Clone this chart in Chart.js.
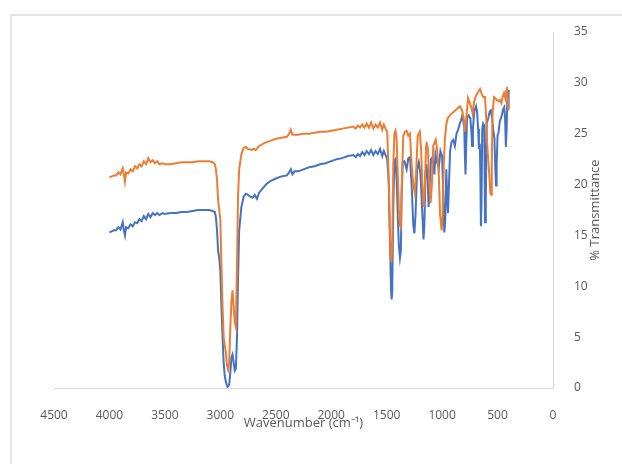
<!DOCTYPE html>
<html>
<head>
<meta charset="utf-8">
<script src="https://cdn.jsdelivr.net/npm/chart.js@4.4.1/dist/chart.umd.min.js"></script>
<style>
  body { margin: 0; background: #fff; overflow: hidden; }
  #frame {
    position: absolute; left: 10px; top: 14px; width: 700px; height: 520px;
    border: 2px solid #e4e4e4;
  }
  #wrap { position: absolute; left: 0; top: 0; width: 622px; height: 464px; }
</style>
</head>
<body>
<div id="frame"></div>
<div id="wrap"><canvas id="irChart" width="622" height="464"></canvas></div>
<script>
// Spectrum 1 (blue): wavenumber (cm-1) and % transmittance
const blueWn = [4000, 3980, 3960, 3940, 3920, 3900, 3880, 3870, 3860, 3850, 3830, 3810, 3790, 3770, 3750, 3730, 3710, 3690, 3670, 3650, 3630, 3610, 3590, 3570, 3550, 3520, 3500, 3450, 3400, 3350, 3300, 3250, 3200, 3150, 3100, 3070, 3050, 3040, 3030, 3020, 3010, 3000, 2990, 2980, 2970, 2960, 2950, 2935, 2920, 2910, 2900, 2890, 2880, 2870, 2860, 2850, 2840, 2830, 2810, 2790, 2770, 2750, 2730, 2710, 2690, 2670, 2650, 2620, 2580, 2540, 2500, 2450, 2400, 2380, 2365, 2350, 2330, 2300, 2250, 2200, 2150, 2100, 2050, 2000, 1950, 1900, 1850, 1800, 1780, 1760, 1740, 1720, 1700, 1680, 1660, 1640, 1620, 1600, 1580, 1560, 1540, 1525, 1510, 1495, 1480, 1470, 1460, 1455, 1450, 1440, 1430, 1420, 1410, 1400, 1390, 1380, 1372, 1365, 1355, 1340, 1320, 1305, 1290, 1275, 1260, 1250, 1240, 1225, 1210, 1195, 1180, 1168, 1160, 1150, 1140, 1130, 1122, 1112, 1100, 1085, 1070, 1060, 1045, 1030, 1015, 1000, 990, 980, 972, 962, 955, 947, 938, 928, 915, 900, 885, 870, 856, 840, 830, 820, 810, 800, 795, 789, 782, 775, 760, 745, 735, 730, 722, 710, 694, 685, 675, 668, 660, 655, 650, 645, 638, 630, 620, 613, 606, 598, 585, 570, 560, 550, 540, 528, 520, 514, 508, 500, 490, 480, 470, 460, 450, 440, 432, 425, 418, 412, 405, 400];
const blueT = [15.3, 15.4, 15.5, 15.5, 15.8, 15.6, 16.3, 15.5, 15.0, 15.8, 15.7, 16.1, 15.9, 16.3, 16.2, 16.6, 16.4, 16.9, 16.6, 17.1, 16.8, 17.2, 17.0, 17.2, 17.0, 17.2, 17.1, 17.2, 17.2, 17.3, 17.3, 17.4, 17.5, 17.5, 17.5, 17.4, 17.3, 16.8, 15.5, 13.5, 12.8, 11.5, 8.0, 5.0, 2.5, 1.2, 0.6, 0.1, 0.3, 1.5, 3.0, 3.3, 2.5, 1.7, 1.9, 5.0, 11.0, 15.5, 17.8, 18.8, 19.1, 19.0, 18.8, 18.7, 19.0, 18.6, 19.2, 19.6, 20.1, 20.4, 20.6, 20.8, 20.9, 21.2, 21.5, 21.0, 21.3, 21.3, 21.5, 21.7, 21.8, 22.0, 22.1, 22.3, 22.5, 22.6, 22.8, 22.9, 22.7, 23.0, 22.8, 23.2, 22.9, 23.3, 23.0, 23.4, 22.9, 23.3, 23.0, 23.5, 22.8, 23.3, 22.9, 22.5, 20.0, 14.0, 9.5, 8.7, 9.5, 18.0, 22.3, 22.5, 20.5, 17.0, 14.0, 12.8, 13.5, 19.0, 22.2, 22.3, 21.5, 22.6, 22.7, 20.0, 16.0, 15.2, 17.0, 21.5, 22.2, 21.0, 17.5, 14.6, 16.0, 21.0, 22.0, 20.5, 17.8, 20.0, 22.5, 22.7, 21.0, 23.0, 22.2, 21.6, 23.3, 22.8, 19.0, 15.3, 16.5, 21.5, 19.0, 17.2, 20.0, 23.3, 24.2, 24.4, 23.8, 25.0, 25.4, 26.0, 26.3, 26.7, 26.3, 25.6, 23.0, 21.0, 24.0, 26.6, 26.8, 26.5, 25.0, 23.8, 25.5, 27.2, 27.7, 27.2, 25.5, 23.5, 24.0, 21.0, 15.9, 18.0, 25.5, 26.0, 25.8, 16.3, 18.5, 26.0, 26.5, 27.2, 27.3, 26.5, 25.5, 24.5, 21.5, 19.9, 22.0, 24.8, 25.2, 26.2, 26.5, 26.9, 27.4, 27.6, 26.5, 23.7, 25.5, 28.5, 29.3, 27.5];

// Spectrum 2 (orange)
const orangeWn = [4000, 3980, 3960, 3940, 3920, 3900, 3880, 3870, 3860, 3850, 3830, 3810, 3790, 3770, 3750, 3730, 3710, 3690, 3670, 3650, 3630, 3610, 3590, 3570, 3550, 3520, 3500, 3450, 3400, 3350, 3300, 3250, 3200, 3150, 3100, 3070, 3050, 3040, 3030, 3020, 3010, 3000, 2990, 2980, 2970, 2960, 2950, 2940, 2930, 2920, 2910, 2900, 2890, 2880, 2870, 2860, 2850, 2840, 2830, 2810, 2790, 2770, 2750, 2720, 2700, 2680, 2650, 2600, 2550, 2500, 2450, 2400, 2380, 2365, 2350, 2330, 2300, 2250, 2200, 2150, 2100, 2050, 2000, 1950, 1900, 1850, 1800, 1780, 1760, 1740, 1720, 1700, 1680, 1660, 1640, 1620, 1600, 1580, 1560, 1540, 1525, 1510, 1495, 1485, 1475, 1465, 1457, 1450, 1440, 1430, 1420, 1410, 1400, 1390, 1380, 1372, 1365, 1350, 1335, 1320, 1305, 1290, 1275, 1260, 1247, 1235, 1220, 1201, 1190, 1178, 1165, 1155, 1145, 1140, 1128, 1118, 1104, 1092, 1080, 1058, 1045, 1030, 1018, 1004, 995, 985, 975, 961, 950, 930, 911, 890, 870, 850, 838, 820, 805, 793, 780, 766, 750, 735, 725, 712, 700, 685, 670, 658, 645, 630, 613, 600, 594, 586, 575, 565, 559, 552, 545, 532, 520, 505, 490, 478, 465, 455, 442, 430, 422, 415, 408, 400];
const orangeT = [20.7, 20.8, 20.9, 20.9, 21.2, 21.0, 21.6, 21.0, 20.3, 21.2, 21.1, 21.5, 21.3, 21.8, 21.6, 22.0, 21.8, 22.3, 22.0, 22.6, 22.2, 22.4, 22.1, 22.3, 22.0, 22.1, 22.0, 22.0, 22.1, 22.2, 22.2, 22.2, 22.3, 22.3, 22.3, 22.2, 22.0, 21.5, 20.5, 18.5, 17.5, 16.5, 12.0, 8.0, 5.0, 4.2, 3.5, 2.2, 1.8, 2.5, 6.0, 8.5, 9.6, 8.0, 6.5, 6.0, 12.0, 19.0, 21.5, 23.0, 23.6, 23.7, 23.5, 23.4, 23.5, 23.4, 23.8, 24.1, 24.3, 24.5, 24.6, 24.7, 25.0, 25.4, 24.9, 24.9, 24.9, 25.0, 25.0, 25.1, 25.2, 25.2, 25.3, 25.4, 25.5, 25.6, 25.7, 25.5, 25.8, 25.6, 25.9, 25.6, 26.0, 25.6, 26.1, 25.5, 25.9, 25.6, 26.1, 25.4, 25.9, 25.5, 25.2, 22.0, 17.0, 13.0, 12.4, 14.0, 22.0, 25.0, 25.3, 24.5, 21.0, 17.5, 16.0, 15.8, 19.5, 24.8, 25.2, 25.3, 24.8, 25.0, 22.0, 20.0, 19.2, 21.0, 24.8, 25.2, 23.5, 20.0, 17.8, 20.0, 23.8, 24.2, 23.5, 20.5, 18.2, 20.0, 23.8, 24.4, 23.5, 21.0, 17.0, 15.5, 17.0, 22.0, 24.5, 26.0, 26.5, 26.8, 27.0, 27.2, 27.4, 27.6, 27.7, 27.3, 26.5, 25.2, 26.8, 28.5, 28.0, 27.5, 27.0, 28.1, 28.6, 28.9, 29.2, 29.4, 29.0, 28.6, 28.6, 26.0, 24.0, 22.7, 21.0, 19.2, 19.0, 22.0, 27.0, 28.6, 28.5, 28.3, 28.2, 28.3, 28.0, 28.6, 29.0, 28.5, 29.2, 29.6, 28.5, 27.3];

const xTicks = [0, 500, 1000, 1500, 2000, 2500, 3000, 3500, 4000, 4500];
const yTicks = [0, 5, 10, 15, 20, 25, 30, 35];

const toPoints = (xs, ys) => xs.map((x, i) => ({ x: x, y: ys[i] }));

const labelColor = '#595959';
const axisColor = '#d9d9d9';
const tickFont = { family: "'Open Sans', 'Liberation Sans', sans-serif", size: 12 };

// Excel-style y title on the right, reading bottom to top
const rightTitle = {
  id: 'rightTitle',
  afterDraw(chart) {
    const { ctx, chartArea } = chart;
    ctx.save();
    ctx.translate(595, (chartArea.top + chartArea.bottom) / 2);
    ctx.rotate(-Math.PI / 2);
    ctx.font = "13px 'Open Sans', 'Liberation Sans', sans-serif";
    ctx.fillStyle = labelColor;
    ctx.textAlign = 'center';
    ctx.textBaseline = 'middle';
    ctx.fillText('% Transmittance', 0, 0);
    ctx.restore();
  }
};

const ctx = document.getElementById('irChart').getContext('2d');
const irChart = new Chart(ctx, {
  type: 'scatter',
  data: {
    datasets: [
      {
        label: 'Spectrum 1',
        data: toPoints(blueWn, blueT),
        borderColor: '#4472C4',
        backgroundColor: '#4472C4',
        order: 1
      },
      {
        label: 'Spectrum 2',
        data: toPoints(orangeWn, orangeT),
        borderColor: '#ED7D31',
        backgroundColor: '#ED7D31',
        order: 0
      }
    ]
  },
  options: {
    responsive: false,
    animation: false,
    showLine: true,
    elements: {
      point: { radius: 0, hoverRadius: 0 },
      line: { borderWidth: 2, tension: 0 }
    },
    layout: { padding: { left: 54, top: 32, right: 0, bottom: 0 } },
    plugins: {
      legend: { display: false },
      tooltip: { enabled: false }
    },
    scales: {
      x: {
        type: 'linear',
        reverse: true,
        min: 0,
        max: 4500,
        afterBuildTicks: scale => { scale.ticks = xTicks.map(v => ({ value: v })); },
        afterFit: scale => { scale.height = 76; },
        grid: { display: false },
        border: { display: true, color: axisColor, width: 1 },
        ticks: {
          padding: 12,
          color: labelColor,
          font: tickFont,
          maxRotation: 0,
          callback: v => String(v)
        },
        title: {
          display: true,
          text: 'Wavenumber (cm⁻¹)',
          color: labelColor,
          font: { family: "'Open Sans', 'Liberation Sans', sans-serif", size: 13 },
          padding: { top: 0, bottom: 33 }
        }
      },
      y: {
        position: 'right',
        min: 0,
        max: 35,
        afterBuildTicks: scale => { scale.ticks = yTicks.map(v => ({ value: v })); },
        afterFit: scale => { scale.width = 69; },
        grid: { display: false },
        border: { display: true, color: axisColor, width: 1 },
        ticks: {
          padding: 13,
          color: labelColor,
          font: tickFont,
          callback: v => String(v)
        }
      }
    }
  },
  plugins: [rightTitle]
});
</script>
</body>
</html>
